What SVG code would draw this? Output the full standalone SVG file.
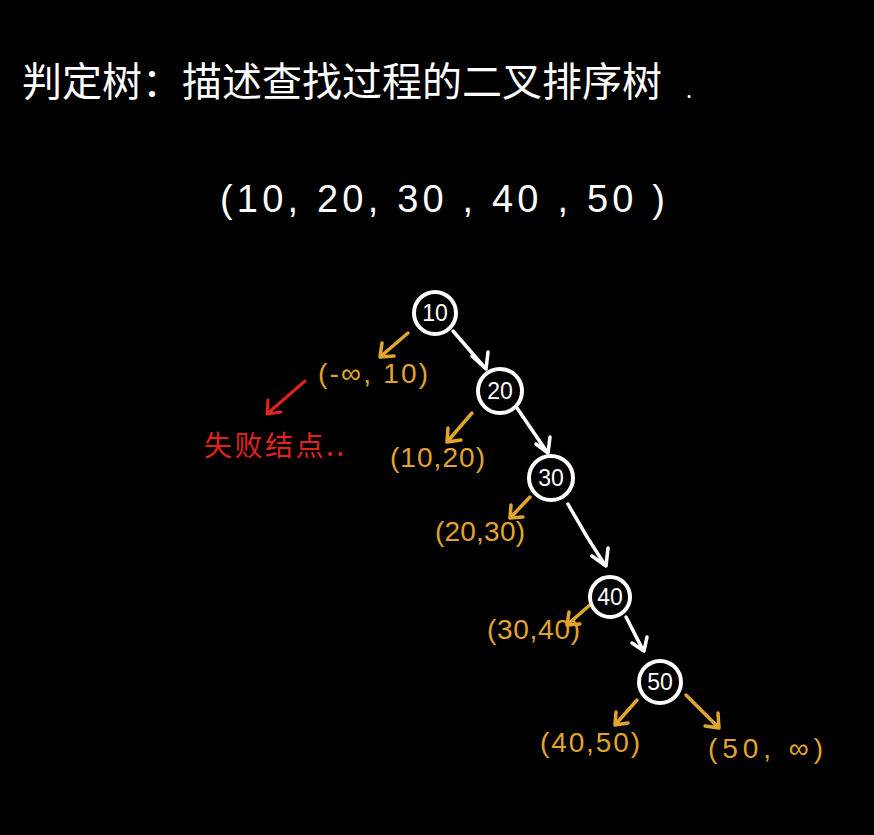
<svg xmlns="http://www.w3.org/2000/svg" width="874" height="835" viewBox="0 0 874 835">
<style>
.w{fill:#fff;font-family:"Noto Sans CJK SC","Liberation Sans",sans-serif}
.seq{fill:#fff;font-family:"Liberation Sans",sans-serif;font-size:38px}
.o{fill:#e0a52a;font-family:"Liberation Sans","Noto Sans CJK SC",sans-serif;font-size:28px}
.r{fill:#e3221d;font-family:"Noto Sans CJK SC",sans-serif;font-size:28px}
.node circle{fill:#000;stroke:#fff;stroke-width:4}
.node text{fill:#fff;font-family:"Liberation Sans",sans-serif;font-size:23px;text-anchor:middle}
.ew{stroke:#fff;stroke-width:3.5;fill:none;stroke-linecap:round;stroke-linejoin:round}
.eo{stroke:#e0a52a;stroke-width:3.5;fill:none;stroke-linecap:round;stroke-linejoin:round}
.er{stroke:#e3221d;stroke-width:3;fill:none;stroke-linecap:round;stroke-linejoin:round}
</style>
<rect width="874" height="835" fill="#000"/>
<text class="w" x="22" y="96" font-size="40" textLength="640">判定树：描述查找过程的二叉排序树</text>
<text class="w" x="686" y="98" font-size="22">.</text>
<text class="seq" x="220" y="212" textLength="445">(10,  20, 30 , 40 , 50 )</text>
<g id="connectors">
<path class="ew" d="M453 331 L485 368 M472 356 L486 369 L488 352"/>
<path class="ew" d="M517 408 L547 452 M536 444 L548 453 L550 437"/>
<path class="ew" d="M568 504 Q585 535 605 565 M592 556 L606 566 L608 548"/>
<path class="ew" d="M626 617 L643 650 M632 643 L644 651 L647 637"/>
<path class="eo" d="M408 333 L380 357 M382 343 L380 357 L394 356"/>
<path class="eo" d="M472 413 L447 442 M448 428 L447 442 L461 440"/>
<path class="eo" d="M530 497 L510 518 M511 505 L510 518 L523 517"/>
<path class="eo" d="M591 604 L567 625 M569 612 L567 625 L580 624"/>
<path class="eo" d="M637 700 L615 725 M616 712 L615 725 L628 723"/>
<path class="eo" d="M686 695 L719 728 M705 726 L719 728 L718 713"/>
<path class="er" d="M305 381 L267 414 M268 400 L267 414 L281 412"/>
</g>
<g id="n10" class="node"><circle cx="435" cy="313" r="21"/><text x="435" y="321">10</text></g>
<g id="n20" class="node"><circle cx="500" cy="391" r="22"/><text x="500" y="399">20</text></g>
<g id="n30" class="node"><circle cx="551" cy="478" r="22"/><text x="551" y="486">30</text></g>
<g id="n40" class="node"><circle cx="610" cy="597" r="20"/><text x="610" y="605">40</text></g>
<g id="n50" class="node"><circle cx="660" cy="682" r="21"/><text x="660" y="690">50</text></g>
<text class="o" x="318" y="383" textLength="110">(-∞, 10)</text>
<text class="o" x="390" y="467" textLength="95">(10,20)</text>
<text class="o" x="435" y="541" textLength="90">(20,30)</text>
<text class="o" x="487" y="639" textLength="93">(30,40)</text>
<text class="o" x="540" y="752" textLength="100">(40,50)</text>
<text class="o" x="708" y="758" textLength="115">(50, ∞)</text>
<text class="r" x="204" y="456" textLength="140">失败结点..</text>
</svg>
